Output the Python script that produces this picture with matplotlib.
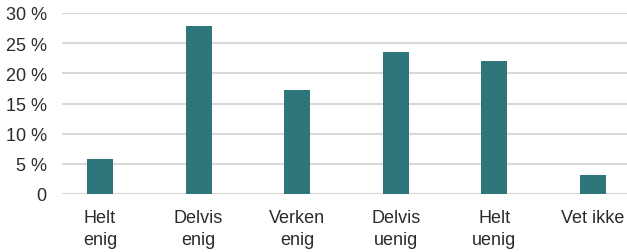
import numpy as np
import matplotlib.pyplot as plt

categories = ["Helt\nenig", "Delvis\nenig", "Verken\nenig", "Delvis\nuenig", "Helt\nuenig", "Vet ikke"]
values = [5.8, 27.9, 17.2, 23.5, 22.0, 3.2]
yticks = [0, 5, 10, 15, 20, 25, 30]
ytick_labels = ["0", "5 %", "10 %", "15 %", "20 %", "25 %", "30 %"]

plt.rcParams['font.family'] = ['Liberation Sans', 'DejaVu Sans']

fig = plt.figure(figsize=(6.27, 2.53), dpi=100)
ax = fig.add_axes([62/627, 1 - 195/253, 1 - 62/627, (195 - 14)/253])

x = np.arange(len(categories))
ax.bar(x, values, width=0.265, color="#2F767A", zorder=3)

ax.set_ylim(0, 30)
ax.set_xlim(-0.385, 5.345)
ax.set_yticks(yticks)
ax.set_yticklabels(ytick_labels)
ax.set_xticks(x)
ax.set_xticklabels(categories, linespacing=1.4)
ax.yaxis.grid(True, color="#D9D9D9", linewidth=1.5, zorder=0)
for s in ax.spines.values():
    s.set_visible(False)
ax.tick_params(axis='both', length=0, labelsize=13, colors="#2B2B2B")
ax.tick_params(axis='y', pad=11)
ax.tick_params(axis='x', pad=11)

fig.savefig("out.png", dpi=100)
